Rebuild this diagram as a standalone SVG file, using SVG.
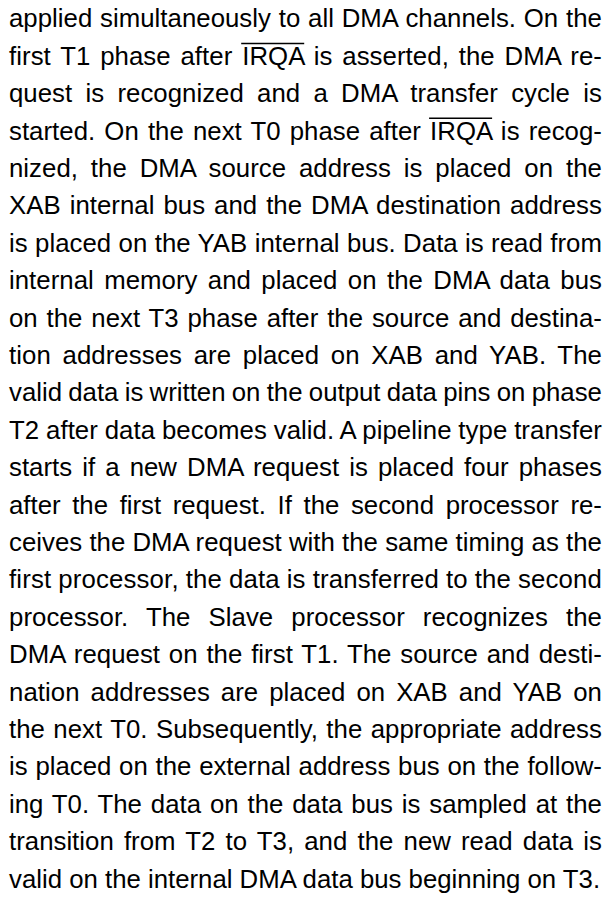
<svg xmlns="http://www.w3.org/2000/svg" width="615" height="899" viewBox="0 0 615 899">
<style>
.t{font-family:"Liberation Sans",Arial,Helvetica,sans-serif;font-size:25.77px;fill:#000}
.ov{stroke:#000;stroke-width:1.4;fill:none}
</style>
<rect width="615" height="899" fill="#fff"/>
<g id="paragraph">
<text class="t" x="9" y="27.3" word-spacing="0.61" textLength="592.9" lengthAdjust="spacing">applied simultaneously to all DMA channels. On the</text>
<text class="t" x="9" y="64.7" word-spacing="2.55" textLength="592.9" lengthAdjust="spacing">first T1 phase after IRQA is asserted, the DMA re-</text>
<text class="t" x="9" y="102.1" word-spacing="6.08" textLength="592.9" lengthAdjust="spacing">quest is recognized and a DMA transfer cycle is</text>
<text class="t" x="9" y="139.5" word-spacing="1.90" textLength="592.9" lengthAdjust="spacing">started. On the next T0 phase after IRQA is recog-</text>
<text class="t" x="9" y="176.9" word-spacing="5.72" textLength="592.9" lengthAdjust="spacing">nized, the DMA source address is placed on the</text>
<text class="t" x="9" y="214.3" word-spacing="1.83" textLength="592.9" lengthAdjust="spacing">XAB internal bus and the DMA destination address</text>
<text class="t" x="9" y="251.7" word-spacing="0.14" textLength="592.9" lengthAdjust="spacing">is placed on the YAB internal bus. Data is read from</text>
<text class="t" x="9" y="289.1" word-spacing="3.21" textLength="592.9" lengthAdjust="spacing">internal memory and placed on the DMA data bus</text>
<text class="t" x="9" y="326.5" word-spacing="1.74" textLength="592.9" lengthAdjust="spacing">on the next T3 phase after the source and destina-</text>
<text class="t" x="9" y="363.9" word-spacing="4.46" textLength="592.9" lengthAdjust="spacing">tion addresses are placed on XAB and YAB. The</text>
<text class="t" x="9" y="401.3" word-spacing="-0.87" textLength="592.9" lengthAdjust="spacing">valid data is written on the output data pins on phase</text>
<text class="t" x="9" y="438.7" word-spacing="-0.37" textLength="592.9" lengthAdjust="spacing">T2 after data becomes valid. A pipeline type transfer</text>
<text class="t" x="9" y="476.1" word-spacing="2.86" textLength="592.9" lengthAdjust="spacing">starts if a new DMA request is placed four phases</text>
<text class="t" x="9" y="513.5" word-spacing="4.47" textLength="592.9" lengthAdjust="spacing">after the first request. If the second processor re-</text>
<text class="t" x="9" y="550.9" word-spacing="0" textLength="592.9" lengthAdjust="spacing">ceives the DMA request with the same timing as the</text>
<text class="t" x="9" y="588.3" word-spacing="-0.33" textLength="592.9" lengthAdjust="spacing">first processor, the data is transferred to the second</text>
<text class="t" x="9" y="625.7" word-spacing="10.88" textLength="592.9" lengthAdjust="spacing">processor. The Slave processor recognizes the</text>
<text class="t" x="9" y="663.1" word-spacing="1.59" textLength="592.9" lengthAdjust="spacing">DMA request on the first T1. The source and desti-</text>
<text class="t" x="9" y="700.5" word-spacing="3.74" textLength="592.9" lengthAdjust="spacing">nation addresses are placed on XAB and YAB on</text>
<text class="t" x="9" y="737.9" word-spacing="1.17" textLength="592.9" lengthAdjust="spacing">the next T0. Subsequently, the appropriate address</text>
<text class="t" x="9" y="775.3" word-spacing="0.63" textLength="592.9" lengthAdjust="spacing">is placed on the external address bus on the follow-</text>
<text class="t" x="9" y="812.7" word-spacing="1.68" textLength="592.9" lengthAdjust="spacing">ing T0. The data on the data bus is sampled at the</text>
<text class="t" x="9" y="850.1" word-spacing="3.00" textLength="592.9" lengthAdjust="spacing">transition from T2 to T3, and the new read data is</text>
<text class="t" x="9" y="887.5">valid on the internal DMA data bus beginning on T3.</text>
</g>
<g id="overlines">
<line class="ov" x1="241.2" y1="43.5" x2="304.2" y2="43.5"/>
<line class="ov" x1="429.1" y1="118.3" x2="492.1" y2="118.3"/>
</g>
</svg>
